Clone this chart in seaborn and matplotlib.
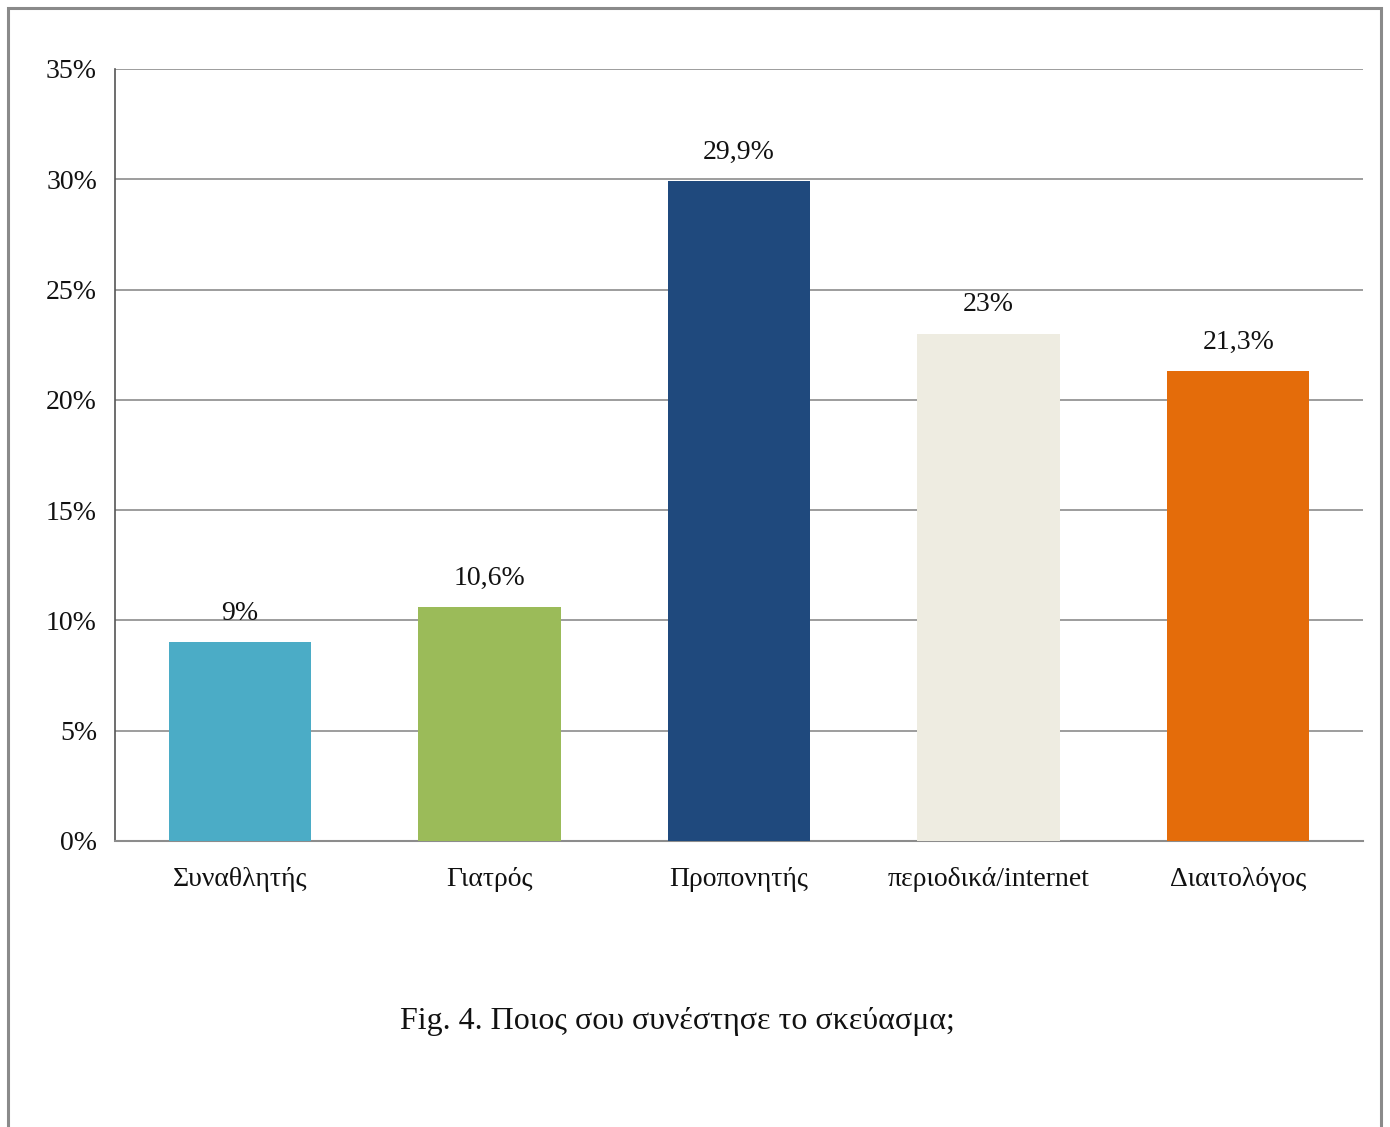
import matplotlib
matplotlib.use("Agg")
import matplotlib.pyplot as plt
from matplotlib.patches import Rectangle
import seaborn as sns
import pandas as pd

categories = ["Συναθλητής", "Γιατρός", "Προπονητής", "περιοδικά/internet", "Διαιτολόγος"]
values = [9.0, 10.6, 29.9, 23.0, 21.3]
value_labels = ["9%", "10,6%", "29,9%", "23%", "21,3%"]
bar_colors = ["#4BACC6", "#9BBB59", "#1F497D", "#EEECE1", "#E46C0A"]
y_ticks = [0, 5, 10, 15, 20, 25, 30, 35]
y_tick_labels = ["0%", "5%", "10%", "15%", "20%", "25%", "30%", "35%"]
caption = "Fig. 4. Ποιος σου συνέστησε το σκεύασμα;"

sns.set_theme(style="white")
plt.rcParams["font.family"] = ["Liberation Serif", "DejaVu Serif"]

df = pd.DataFrame({"source": categories, "pct": values})

fig = plt.figure(figsize=(13.9, 11.27), dpi=100)
ax = fig.add_axes([115 / 1390, 286 / 1127, 1248 / 1390, 772 / 1127])

sns.barplot(data=df, x="source", y="pct", hue="source", palette=bar_colors,
            order=categories, hue_order=categories, legend=False,
            width=0.57, saturation=1, linewidth=0, ax=ax, zorder=3)

ax.set_xlim(-0.5, len(categories) - 0.5)
ax.set_ylim(0, 35)
ax.set_yticks(y_ticks)
ax.set_yticklabels(y_tick_labels, fontsize=20, color="#111111")
ax.tick_params(axis="x", labelsize=20, labelcolor="#111111", length=0, pad=19)
ax.tick_params(axis="y", length=0, pad=13)
ax.set_xlabel("")
ax.set_ylabel("")

ax.yaxis.grid(True, color="#8c8c8c", linewidth=1.2, zorder=0)
ax.set_axisbelow(True)
for side in ("top", "right"):
    ax.spines[side].set_visible(False)
ax.spines["left"].set_color("#555555")
ax.spines["left"].set_linewidth(1.2)
ax.spines["bottom"].set_color("#8c8c8c")
ax.spines["bottom"].set_linewidth(1.5)

for i, (v, lab) in enumerate(zip(values, value_labels)):
    ax.annotate(lab, xy=(i, v), xytext=(0, 12), textcoords="offset points",
                ha="center", va="bottom", fontsize=20, color="#111111")

fig.text(677 / 1390, 1 - 1022 / 1127, caption, ha="center", va="center",
         fontsize=23, color="#111111")

# page frame around the figure
fig.patches.append(Rectangle((8 / 1390, -0.02), (1381 - 8) / 1390, 1 - 8 / 1127 + 0.02,
                             transform=fig.transFigure, fill=False,
                             edgecolor="#8a8a8a", linewidth=2.2))

fig.savefig("out.png", dpi=100)
